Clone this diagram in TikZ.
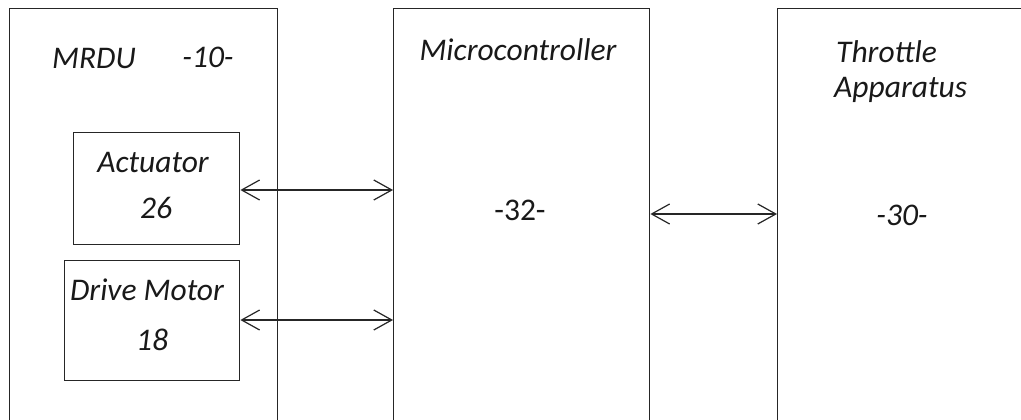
\documentclass[tikz,border=0pt]{standalone}
\usepackage{fontspec}
\setmainfont{Carlito}
\usetikzlibrary{arrows.meta}
\begin{document}
\begin{tikzpicture}[x=1pt,y=-1pt,
  box/.style={draw=black!85, line width=1.4pt, inner sep=0pt, anchor=north west},
  lbl/.style={font=\fontsize{31.5}{36}\selectfont\itshape, text=black!90, inner sep=0pt},
  biarrow/.style={line width=1.2pt, draw=black!85, {Straight Barb[length=18pt,width=20pt,line width=1.2pt]}-{Straight Barb[length=18pt,width=20pt,line width=1.2pt]}}]
\useasboundingbox[fill=white] (0,0) rectangle (1021,420);
% boxes
\node[box, minimum width=268pt, minimum height=425pt] (mrdu) at (9,8) {};
\node[box, minimum width=166pt, minimum height=112pt] (act) at (73,132) {};
\node[box, minimum width=175pt, minimum height=120pt] (dm) at (64,260) {};
\node[box, minimum width=256pt, minimum height=425pt] (mc) at (393,8) {};
\node[box, minimum width=260pt, minimum height=425pt] (thr) at (777,8) {};
% labels
\node[lbl] (tmrdu) at (94,59) {MRDU};
\node[lbl] (t10) at (208,57) {-10-};
\node[lbl] (tact) at (153,163) {Actuator};
\node[lbl] (t26) at (156,208) {26};
\node[lbl] (tdm) at (147,290) {Drive Motor};
\node[lbl] (t18) at (152,340) {18};
\node[lbl] (tmc) at (518,50) {Microcontroller};
\node[lbl, font=\fontsize{31.5}{36}\selectfont\upshape] (t32) at (520,210) {-32-};
\node[lbl, anchor=west] (tthr1) at (836,52) {Throttle};
\node[lbl, anchor=west] (tthr2) at (834,90) {Apparatus};
\node[lbl] (t30) at (902,215) {-30-};
% connectors
\coordinate (c1) at (0,190);
\coordinate (c2) at (0,320);
\coordinate (c3) at (0,214);
\draw[biarrow] (act.east |- c1) -- (mc.west |- c1);
\draw[biarrow] (dm.east |- c2) -- (mc.west |- c2);
\draw[biarrow] (mc.east |- c3) -- (thr.west |- c3);
\end{tikzpicture}
\end{document}
